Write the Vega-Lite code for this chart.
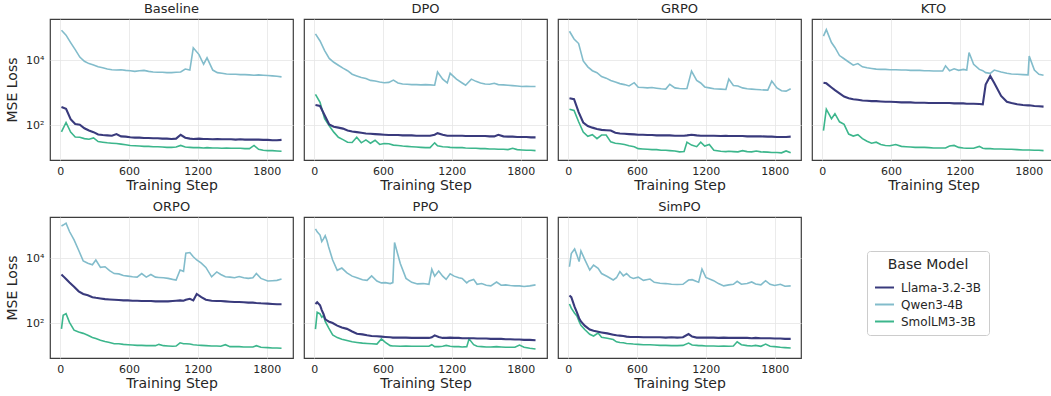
{
"$schema": "https://vega.github.io/schema/vega-lite/v6.json",
"padding": {"left": 5, "top": 2, "right": 0, "bottom": 0},
"background": "white",
"data": {"values": [
{"m":"Baseline","x":10,"L":363,"Q":85100,"S":61.7},
{"m":"Baseline","x":50,"L":316,"Q":60300,"S":120},
{"m":"Baseline","x":90,"L":151,"Q":35500,"S":60.3},
{"m":"Baseline","x":130,"L":107,"Q":21400,"S":42.7},
{"m":"Baseline","x":170,"L":102,"Q":12600,"S":41.7},
{"m":"Baseline","x":210,"L":79.4,"Q":9330,"S":38.0},
{"m":"Baseline","x":250,"L":67.6,"Q":7940,"S":36.3},
{"m":"Baseline","x":290,"L":60.3,"Q":7240,"S":39.8},
{"m":"Baseline","x":330,"L":51.3,"Q":6310,"S":30.9},
{"m":"Baseline","x":370,"L":49.0,"Q":5890,"S":29.5},
{"m":"Baseline","x":410,"L":47.9,"Q":5370,"S":28.2},
{"m":"Baseline","x":450,"L":46.8,"Q":5130,"S":27.5},
{"m":"Baseline","x":490,"L":52.5,"Q":5010,"S":26.9},
{"m":"Baseline","x":530,"L":44.7,"Q":5130,"S":25.7},
{"m":"Baseline","x":570,"L":43.7,"Q":4900,"S":24.5},
{"m":"Baseline","x":610,"L":41.7,"Q":4790,"S":23.4},
{"m":"Baseline","x":650,"L":40.7,"Q":4570,"S":22.9},
{"m":"Baseline","x":690,"L":40.7,"Q":4790,"S":22.4},
{"m":"Baseline","x":730,"L":39.8,"Q":4900,"S":21.9},
{"m":"Baseline","x":770,"L":39.8,"Q":4570,"S":21.9},
{"m":"Baseline","x":810,"L":38.9,"Q":4370,"S":21.4},
{"m":"Baseline","x":850,"L":38.9,"Q":4270,"S":21.4},
{"m":"Baseline","x":890,"L":38.0,"Q":4270,"S":20.9},
{"m":"Baseline","x":930,"L":38.0,"Q":4170,"S":20.4},
{"m":"Baseline","x":970,"L":37.2,"Q":4170,"S":20.4},
{"m":"Baseline","x":1010,"L":38.0,"Q":4270,"S":20.9},
{"m":"Baseline","x":1050,"L":50.1,"Q":4370,"S":23.4},
{"m":"Baseline","x":1090,"L":40.7,"Q":5370,"S":20.9},
{"m":"Baseline","x":1130,"L":38.0,"Q":5010,"S":20.4},
{"m":"Baseline","x":1160,"L":37.2,"Q":24500,"S":20.0},
{"m":"Baseline","x":1210,"L":38.0,"Q":15100,"S":20.0},
{"m":"Baseline","x":1250,"L":37.2,"Q":7590,"S":19.5},
{"m":"Baseline","x":1280,"L":37.2,"Q":12000,"S":20.0},
{"m":"Baseline","x":1330,"L":36.3,"Q":5010,"S":19.5},
{"m":"Baseline","x":1370,"L":37.2,"Q":4170,"S":19.5},
{"m":"Baseline","x":1410,"L":36.3,"Q":3980,"S":19.1},
{"m":"Baseline","x":1450,"L":36.3,"Q":3800,"S":19.5},
{"m":"Baseline","x":1490,"L":36.3,"Q":3720,"S":19.1},
{"m":"Baseline","x":1530,"L":35.5,"Q":3720,"S":19.1},
{"m":"Baseline","x":1570,"L":36.3,"Q":3630,"S":19.1},
{"m":"Baseline","x":1610,"L":35.5,"Q":3630,"S":18.6},
{"m":"Baseline","x":1650,"L":35.5,"Q":3550,"S":18.6},
{"m":"Baseline","x":1690,"L":35.5,"Q":3470,"S":23.4},
{"m":"Baseline","x":1730,"L":35.5,"Q":3550,"S":17.8},
{"m":"Baseline","x":1770,"L":34.7,"Q":3470,"S":16.6},
{"m":"Baseline","x":1810,"L":34.7,"Q":3390,"S":16.2},
{"m":"Baseline","x":1850,"L":33.9,"Q":3310,"S":16.2},
{"m":"Baseline","x":1890,"L":33.9,"Q":3240,"S":15.8},
{"m":"Baseline","x":1930,"L":34.7,"Q":3090,"S":15.5},
{"m":"DPO","x":10,"L":417,"Q":66100,"S":891},
{"m":"DPO","x":50,"L":389,"Q":39800,"S":501},
{"m":"DPO","x":90,"L":200,"Q":20000,"S":158},
{"m":"DPO","x":130,"L":105,"Q":11500,"S":95.5},
{"m":"DPO","x":170,"L":89.1,"Q":8710,"S":60.3},
{"m":"DPO","x":210,"L":83.2,"Q":7080,"S":41.7},
{"m":"DPO","x":250,"L":77.6,"Q":5750,"S":35.5},
{"m":"DPO","x":290,"L":67.6,"Q":4790,"S":29.5},
{"m":"DPO","x":330,"L":63.1,"Q":3720,"S":28.8},
{"m":"DPO","x":370,"L":60.3,"Q":3310,"S":41.7},
{"m":"DPO","x":410,"L":57.5,"Q":2950,"S":28.2},
{"m":"DPO","x":450,"L":55.0,"Q":2750,"S":34.7},
{"m":"DPO","x":490,"L":53.7,"Q":2400,"S":27.5},
{"m":"DPO","x":530,"L":52.5,"Q":2290,"S":33.9},
{"m":"DPO","x":570,"L":51.3,"Q":2140,"S":25.1},
{"m":"DPO","x":610,"L":50.1,"Q":2040,"S":26.9},
{"m":"DPO","x":650,"L":49.0,"Q":2090,"S":26.3},
{"m":"DPO","x":690,"L":49.0,"Q":2450,"S":24.0},
{"m":"DPO","x":730,"L":49.0,"Q":2000,"S":23.4},
{"m":"DPO","x":770,"L":47.9,"Q":1860,"S":22.4},
{"m":"DPO","x":810,"L":47.9,"Q":1820,"S":21.9},
{"m":"DPO","x":850,"L":47.9,"Q":1780,"S":21.4},
{"m":"DPO","x":890,"L":46.8,"Q":1780,"S":20.9},
{"m":"DPO","x":930,"L":46.8,"Q":1740,"S":20.4},
{"m":"DPO","x":970,"L":46.8,"Q":1780,"S":20.0},
{"m":"DPO","x":1010,"L":46.8,"Q":1740,"S":20.0},
{"m":"DPO","x":1050,"L":50.1,"Q":1700,"S":28.2},
{"m":"DPO","x":1075,"L":56.2,"Q":4370,"S":22.9},
{"m":"DPO","x":1120,"L":50.1,"Q":2630,"S":21.4},
{"m":"DPO","x":1160,"L":46.8,"Q":2000,"S":20.9},
{"m":"DPO","x":1185,"L":46.8,"Q":3980,"S":20.4},
{"m":"DPO","x":1240,"L":46.8,"Q":2630,"S":20.0},
{"m":"DPO","x":1290,"L":46.8,"Q":2000,"S":20.0},
{"m":"DPO","x":1320,"L":45.7,"Q":1700,"S":19.5},
{"m":"DPO","x":1370,"L":45.7,"Q":2630,"S":19.1},
{"m":"DPO","x":1410,"L":45.7,"Q":2240,"S":19.1},
{"m":"DPO","x":1450,"L":45.7,"Q":2000,"S":18.6},
{"m":"DPO","x":1490,"L":45.7,"Q":1860,"S":18.6},
{"m":"DPO","x":1530,"L":44.7,"Q":1820,"S":18.2},
{"m":"DPO","x":1570,"L":44.7,"Q":1950,"S":18.2},
{"m":"DPO","x":1605,"L":50.1,"Q":1780,"S":17.8},
{"m":"DPO","x":1650,"L":44.7,"Q":1740,"S":17.8},
{"m":"DPO","x":1690,"L":43.7,"Q":1700,"S":17.4},
{"m":"DPO","x":1730,"L":43.7,"Q":1660,"S":19.1},
{"m":"DPO","x":1770,"L":42.7,"Q":1620,"S":17.4},
{"m":"DPO","x":1810,"L":42.7,"Q":1550,"S":17.0},
{"m":"DPO","x":1850,"L":42.7,"Q":1580,"S":16.6},
{"m":"DPO","x":1890,"L":41.7,"Q":1550,"S":16.6},
{"m":"DPO","x":1930,"L":41.7,"Q":1550,"S":16.2},
{"m":"GRPO","x":10,"L":676,"Q":79400,"S":309},
{"m":"GRPO","x":50,"L":631,"Q":45700,"S":282},
{"m":"GRPO","x":90,"L":251,"Q":33100,"S":126},
{"m":"GRPO","x":130,"L":120,"Q":9550,"S":60.3},
{"m":"GRPO","x":170,"L":93.3,"Q":6310,"S":44.7},
{"m":"GRPO","x":210,"L":83.2,"Q":4790,"S":50.1},
{"m":"GRPO","x":250,"L":75.9,"Q":4170,"S":38.0},
{"m":"GRPO","x":290,"L":70.8,"Q":3160,"S":49.0},
{"m":"GRPO","x":330,"L":69.2,"Q":2820,"S":49.0},
{"m":"GRPO","x":370,"L":67.6,"Q":2400,"S":30.2},
{"m":"GRPO","x":410,"L":57.5,"Q":2140,"S":27.5},
{"m":"GRPO","x":450,"L":55.0,"Q":1910,"S":26.3},
{"m":"GRPO","x":490,"L":53.7,"Q":1780,"S":25.1},
{"m":"GRPO","x":530,"L":52.5,"Q":1620,"S":22.9},
{"m":"GRPO","x":575,"L":51.3,"Q":2040,"S":21.4},
{"m":"GRPO","x":610,"L":50.1,"Q":1480,"S":18.6},
{"m":"GRPO","x":650,"L":50.1,"Q":1450,"S":18.2},
{"m":"GRPO","x":690,"L":49.0,"Q":1410,"S":17.8},
{"m":"GRPO","x":730,"L":49.0,"Q":1450,"S":17.4},
{"m":"GRPO","x":770,"L":47.9,"Q":1380,"S":17.4},
{"m":"GRPO","x":810,"L":47.9,"Q":1320,"S":16.6},
{"m":"GRPO","x":850,"L":47.9,"Q":1290,"S":16.6},
{"m":"GRPO","x":885,"L":47.9,"Q":1820,"S":16.2},
{"m":"GRPO","x":930,"L":46.8,"Q":1410,"S":15.8},
{"m":"GRPO","x":970,"L":46.8,"Q":1350,"S":14.8},
{"m":"GRPO","x":1010,"L":46.8,"Q":1320,"S":15.1},
{"m":"GRPO","x":1035,"L":47.9,"Q":1350,"S":29.5},
{"m":"GRPO","x":1075,"L":50.1,"Q":4680,"S":24.0},
{"m":"GRPO","x":1120,"L":47.9,"Q":2400,"S":21.4},
{"m":"GRPO","x":1155,"L":46.8,"Q":2000,"S":29.5},
{"m":"GRPO","x":1190,"L":46.8,"Q":1510,"S":22.4},
{"m":"GRPO","x":1230,"L":46.8,"Q":1410,"S":25.1},
{"m":"GRPO","x":1270,"L":46.8,"Q":1320,"S":16.6},
{"m":"GRPO","x":1330,"L":45.7,"Q":1290,"S":15.5},
{"m":"GRPO","x":1375,"L":46.8,"Q":1260,"S":15.1},
{"m":"GRPO","x":1400,"L":45.7,"Q":2630,"S":15.5},
{"m":"GRPO","x":1440,"L":45.7,"Q":1660,"S":15.1},
{"m":"GRPO","x":1480,"L":45.7,"Q":1620,"S":14.8},
{"m":"GRPO","x":1520,"L":45.7,"Q":1410,"S":16.2},
{"m":"GRPO","x":1560,"L":44.7,"Q":1320,"S":15.1},
{"m":"GRPO","x":1600,"L":44.7,"Q":1290,"S":14.8},
{"m":"GRPO","x":1640,"L":44.7,"Q":1260,"S":15.8},
{"m":"GRPO","x":1680,"L":44.7,"Q":1230,"S":14.8},
{"m":"GRPO","x":1740,"L":43.7,"Q":1200,"S":14.5},
{"m":"GRPO","x":1775,"L":43.7,"Q":2290,"S":14.1},
{"m":"GRPO","x":1820,"L":42.7,"Q":1410,"S":14.1},
{"m":"GRPO","x":1860,"L":42.7,"Q":1150,"S":13.8},
{"m":"GRPO","x":1900,"L":42.7,"Q":1120,"S":15.8},
{"m":"GRPO","x":1940,"L":43.7,"Q":1320,"S":13.8},
{"m":"KTO","x":10,"L":2040,"Q":56200,"S":67.6},
{"m":"KTO","x":35,"L":1950,"Q":89100,"S":309},
{"m":"KTO","x":80,"L":1450,"Q":35500,"S":158},
{"m":"KTO","x":110,"L":1200,"Q":25100,"S":224},
{"m":"KTO","x":150,"L":955,"Q":14100,"S":126},
{"m":"KTO","x":190,"L":759,"Q":11200,"S":105},
{"m":"KTO","x":230,"L":676,"Q":8910,"S":52.5},
{"m":"KTO","x":270,"L":631,"Q":7080,"S":45.7},
{"m":"KTO","x":310,"L":603,"Q":7940,"S":50.1},
{"m":"KTO","x":350,"L":575,"Q":6310,"S":38.0},
{"m":"KTO","x":390,"L":562,"Q":5890,"S":31.6},
{"m":"KTO","x":430,"L":550,"Q":5620,"S":27.5},
{"m":"KTO","x":470,"L":550,"Q":5370,"S":29.5},
{"m":"KTO","x":510,"L":537,"Q":5250,"S":25.1},
{"m":"KTO","x":550,"L":525,"Q":5250,"S":23.4},
{"m":"KTO","x":590,"L":525,"Q":5130,"S":22.9},
{"m":"KTO","x":640,"L":513,"Q":5130,"S":25.1},
{"m":"KTO","x":690,"L":501,"Q":5010,"S":21.9},
{"m":"KTO","x":730,"L":501,"Q":5010,"S":21.4},
{"m":"KTO","x":770,"L":501,"Q":4900,"S":20.9},
{"m":"KTO","x":810,"L":490,"Q":4900,"S":20.4},
{"m":"KTO","x":850,"L":490,"Q":4900,"S":20.4},
{"m":"KTO","x":890,"L":490,"Q":4790,"S":20.4},
{"m":"KTO","x":930,"L":479,"Q":4790,"S":20.0},
{"m":"KTO","x":970,"L":479,"Q":4680,"S":19.5},
{"m":"KTO","x":1010,"L":479,"Q":4680,"S":19.5},
{"m":"KTO","x":1050,"L":479,"Q":4680,"S":19.5},
{"m":"KTO","x":1075,"L":479,"Q":6760,"S":19.5},
{"m":"KTO","x":1110,"L":479,"Q":4790,"S":22.4},
{"m":"KTO","x":1150,"L":468,"Q":5500,"S":23.4},
{"m":"KTO","x":1190,"L":468,"Q":4900,"S":20.4},
{"m":"KTO","x":1230,"L":468,"Q":5250,"S":19.5},
{"m":"KTO","x":1260,"L":457,"Q":5010,"S":19.1},
{"m":"KTO","x":1280,"L":457,"Q":17400,"S":19.1},
{"m":"KTO","x":1320,"L":457,"Q":7590,"S":19.1},
{"m":"KTO","x":1370,"L":447,"Q":5250,"S":21.9},
{"m":"KTO","x":1400,"L":437,"Q":4790,"S":19.1},
{"m":"KTO","x":1425,"L":1780,"Q":4170,"S":18.6},
{"m":"KTO","x":1465,"L":3310,"Q":3980,"S":18.6},
{"m":"KTO","x":1500,"L":2000,"Q":5010,"S":18.2},
{"m":"KTO","x":1560,"L":794,"Q":4370,"S":18.2},
{"m":"KTO","x":1610,"L":525,"Q":3980,"S":17.8},
{"m":"KTO","x":1650,"L":479,"Q":3800,"S":17.8},
{"m":"KTO","x":1700,"L":437,"Q":3720,"S":17.4},
{"m":"KTO","x":1750,"L":417,"Q":3630,"S":17.0},
{"m":"KTO","x":1795,"L":407,"Q":3550,"S":17.0},
{"m":"KTO","x":1805,"L":407,"Q":13500,"S":17.0},
{"m":"KTO","x":1850,"L":389,"Q":5010,"S":16.6},
{"m":"KTO","x":1890,"L":380,"Q":3720,"S":16.6},
{"m":"KTO","x":1930,"L":372,"Q":3470,"S":16.2},
{"m":"ORPO","x":10,"L":3160,"Q":100000,"S":66.1},
{"m":"ORPO","x":25,"L":2820,"Q":107000,"S":174},
{"m":"ORPO","x":50,"L":2290,"Q":123000,"S":195},
{"m":"ORPO","x":80,"L":1780,"Q":67600,"S":105},
{"m":"ORPO","x":120,"L":1320,"Q":37200,"S":60.3},
{"m":"ORPO","x":160,"L":955,"Q":17800,"S":52.5},
{"m":"ORPO","x":200,"L":794,"Q":8320,"S":47.9},
{"m":"ORPO","x":240,"L":724,"Q":7080,"S":41.7},
{"m":"ORPO","x":280,"L":631,"Q":6310,"S":35.5},
{"m":"ORPO","x":310,"L":603,"Q":8910,"S":33.1},
{"m":"ORPO","x":350,"L":575,"Q":5250,"S":29.5},
{"m":"ORPO","x":390,"L":550,"Q":5500,"S":26.9},
{"m":"ORPO","x":430,"L":537,"Q":4170,"S":25.1},
{"m":"ORPO","x":470,"L":525,"Q":3390,"S":22.9},
{"m":"ORPO","x":510,"L":513,"Q":3310,"S":22.9},
{"m":"ORPO","x":550,"L":501,"Q":2950,"S":21.9},
{"m":"ORPO","x":590,"L":501,"Q":2820,"S":21.4},
{"m":"ORPO","x":630,"L":490,"Q":2690,"S":20.9},
{"m":"ORPO","x":670,"L":490,"Q":2630,"S":20.4},
{"m":"ORPO","x":710,"L":479,"Q":3390,"S":20.4},
{"m":"ORPO","x":750,"L":479,"Q":2630,"S":20.0},
{"m":"ORPO","x":790,"L":479,"Q":3160,"S":20.0},
{"m":"ORPO","x":830,"L":468,"Q":2630,"S":20.0},
{"m":"ORPO","x":860,"L":468,"Q":2570,"S":21.9},
{"m":"ORPO","x":900,"L":468,"Q":2510,"S":20.0},
{"m":"ORPO","x":940,"L":468,"Q":2400,"S":19.5},
{"m":"ORPO","x":980,"L":479,"Q":2240,"S":19.1},
{"m":"ORPO","x":1010,"L":490,"Q":2140,"S":19.5},
{"m":"ORPO","x":1045,"L":501,"Q":4370,"S":24.5},
{"m":"ORPO","x":1075,"L":490,"Q":3980,"S":22.9},
{"m":"ORPO","x":1095,"L":525,"Q":14500,"S":22.9},
{"m":"ORPO","x":1130,"L":562,"Q":15100,"S":22.4},
{"m":"ORPO","x":1160,"L":501,"Q":11200,"S":21.4},
{"m":"ORPO","x":1190,"L":794,"Q":8910,"S":20.9},
{"m":"ORPO","x":1230,"L":631,"Q":7080,"S":20.4},
{"m":"ORPO","x":1270,"L":525,"Q":5250,"S":20.0},
{"m":"ORPO","x":1320,"L":490,"Q":2690,"S":19.5},
{"m":"ORPO","x":1365,"L":479,"Q":3800,"S":19.5},
{"m":"ORPO","x":1400,"L":479,"Q":3160,"S":19.1},
{"m":"ORPO","x":1440,"L":468,"Q":2690,"S":21.4},
{"m":"ORPO","x":1480,"L":457,"Q":2630,"S":18.6},
{"m":"ORPO","x":1520,"L":447,"Q":2510,"S":18.6},
{"m":"ORPO","x":1560,"L":447,"Q":2750,"S":18.6},
{"m":"ORPO","x":1600,"L":437,"Q":2510,"S":18.2},
{"m":"ORPO","x":1640,"L":427,"Q":2400,"S":18.2},
{"m":"ORPO","x":1680,"L":427,"Q":2510,"S":18.2},
{"m":"ORPO","x":1710,"L":417,"Q":3390,"S":20.0},
{"m":"ORPO","x":1750,"L":407,"Q":2400,"S":17.8},
{"m":"ORPO","x":1810,"L":398,"Q":2000,"S":17.4},
{"m":"ORPO","x":1850,"L":389,"Q":2040,"S":17.0},
{"m":"ORPO","x":1890,"L":380,"Q":2090,"S":17.0},
{"m":"ORPO","x":1930,"L":380,"Q":2290,"S":16.6},
{"m":"PPO","x":10,"L":389,"Q":81300,"S":64.6},
{"m":"PPO","x":25,"L":437,"Q":66100,"S":214},
{"m":"PPO","x":50,"L":355,"Q":52500,"S":191},
{"m":"PPO","x":65,"L":251,"Q":33100,"S":151},
{"m":"PPO","x":80,"L":191,"Q":39800,"S":170},
{"m":"PPO","x":95,"L":132,"Q":50100,"S":112},
{"m":"PPO","x":110,"L":120,"Q":35500,"S":89.1},
{"m":"PPO","x":125,"L":112,"Q":22400,"S":70.8},
{"m":"PPO","x":160,"L":100,"Q":8910,"S":42.7},
{"m":"PPO","x":200,"L":83.2,"Q":4270,"S":35.5},
{"m":"PPO","x":240,"L":72.4,"Q":5010,"S":31.6},
{"m":"PPO","x":285,"L":66.1,"Q":3550,"S":28.8},
{"m":"PPO","x":330,"L":55.0,"Q":2820,"S":26.3},
{"m":"PPO","x":372,"L":46.8,"Q":2510,"S":25.1},
{"m":"PPO","x":420,"L":44.7,"Q":2190,"S":24.0},
{"m":"PPO","x":460,"L":41.7,"Q":2090,"S":23.4},
{"m":"PPO","x":500,"L":39.8,"Q":2880,"S":22.9},
{"m":"PPO","x":546,"L":38.9,"Q":2000,"S":22.4},
{"m":"PPO","x":585,"L":38.0,"Q":1740,"S":32.4},
{"m":"PPO","x":620,"L":37.2,"Q":1780,"S":25.1},
{"m":"PPO","x":662,"L":36.3,"Q":1660,"S":20.0},
{"m":"PPO","x":685,"L":35.5,"Q":1780,"S":19.5},
{"m":"PPO","x":700,"L":35.5,"Q":30900,"S":19.5},
{"m":"PPO","x":750,"L":35.5,"Q":6920,"S":19.1},
{"m":"PPO","x":800,"L":35.5,"Q":2400,"S":19.5},
{"m":"PPO","x":850,"L":34.7,"Q":1820,"S":19.1},
{"m":"PPO","x":900,"L":34.7,"Q":1620,"S":19.1},
{"m":"PPO","x":950,"L":34.7,"Q":1660,"S":19.1},
{"m":"PPO","x":1000,"L":34.7,"Q":1580,"S":19.1},
{"m":"PPO","x":1025,"L":36.3,"Q":4570,"S":21.4},
{"m":"PPO","x":1050,"L":41.7,"Q":2820,"S":18.6},
{"m":"PPO","x":1085,"L":37.2,"Q":4070,"S":18.6},
{"m":"PPO","x":1120,"L":34.7,"Q":2820,"S":19.1},
{"m":"PPO","x":1150,"L":34.7,"Q":2240,"S":20.4},
{"m":"PPO","x":1185,"L":35.5,"Q":3310,"S":19.1},
{"m":"PPO","x":1220,"L":34.7,"Q":2820,"S":18.6},
{"m":"PPO","x":1260,"L":34.7,"Q":2510,"S":18.6},
{"m":"PPO","x":1290,"L":33.9,"Q":2400,"S":18.2},
{"m":"PPO","x":1330,"L":33.9,"Q":1740,"S":18.6},
{"m":"PPO","x":1350,"L":33.9,"Q":2000,"S":32.4},
{"m":"PPO","x":1390,"L":33.9,"Q":2240,"S":21.4},
{"m":"PPO","x":1420,"L":33.1,"Q":1580,"S":19.1},
{"m":"PPO","x":1460,"L":33.1,"Q":1660,"S":18.6},
{"m":"PPO","x":1500,"L":33.1,"Q":1480,"S":18.2},
{"m":"PPO","x":1540,"L":32.4,"Q":1410,"S":18.2},
{"m":"PPO","x":1590,"L":32.4,"Q":1860,"S":18.6},
{"m":"PPO","x":1630,"L":32.4,"Q":1480,"S":18.2},
{"m":"PPO","x":1670,"L":31.6,"Q":1510,"S":17.8},
{"m":"PPO","x":1710,"L":31.6,"Q":1450,"S":17.8},
{"m":"PPO","x":1750,"L":30.9,"Q":1410,"S":17.8},
{"m":"PPO","x":1790,"L":30.9,"Q":1410,"S":20.9},
{"m":"PPO","x":1830,"L":30.2,"Q":1350,"S":17.8},
{"m":"PPO","x":1880,"L":30.2,"Q":1410,"S":16.6},
{"m":"PPO","x":1930,"L":29.5,"Q":1510,"S":15.8},
{"m":"SimPO","x":10,"L":708,"Q":5500,"S":389},
{"m":"SimPO","x":26,"L":631,"Q":14100,"S":288},
{"m":"SimPO","x":55,"L":316,"Q":19500,"S":200},
{"m":"SimPO","x":75,"L":214,"Q":12600,"S":166},
{"m":"SimPO","x":94,"L":141,"Q":7940,"S":112},
{"m":"SimPO","x":110,"L":112,"Q":17000,"S":85.1},
{"m":"SimPO","x":143,"L":83.2,"Q":9330,"S":63.1},
{"m":"SimPO","x":187,"L":63.1,"Q":4370,"S":44.7},
{"m":"SimPO","x":220,"L":57.5,"Q":6170,"S":39.8},
{"m":"SimPO","x":260,"L":53.7,"Q":4900,"S":49.0},
{"m":"SimPO","x":290,"L":51.3,"Q":3390,"S":36.3},
{"m":"SimPO","x":340,"L":47.9,"Q":2750,"S":33.9},
{"m":"SimPO","x":392,"L":43.7,"Q":2140,"S":30.9},
{"m":"SimPO","x":420,"L":41.7,"Q":2510,"S":26.3},
{"m":"SimPO","x":450,"L":40.7,"Q":3890,"S":25.1},
{"m":"SimPO","x":480,"L":39.8,"Q":2880,"S":24.5},
{"m":"SimPO","x":508,"L":38.0,"Q":3390,"S":23.4},
{"m":"SimPO","x":540,"L":37.2,"Q":2630,"S":22.9},
{"m":"SimPO","x":567,"L":37.2,"Q":2400,"S":22.4},
{"m":"SimPO","x":610,"L":37.2,"Q":2630,"S":21.9},
{"m":"SimPO","x":655,"L":36.3,"Q":2090,"S":21.4},
{"m":"SimPO","x":713,"L":36.3,"Q":2290,"S":21.4},
{"m":"SimPO","x":750,"L":36.3,"Q":1820,"S":20.9},
{"m":"SimPO","x":800,"L":36.3,"Q":1700,"S":20.4},
{"m":"SimPO","x":850,"L":35.5,"Q":1660,"S":20.4},
{"m":"SimPO","x":900,"L":36.3,"Q":1580,"S":20.0},
{"m":"SimPO","x":950,"L":35.5,"Q":1550,"S":20.0},
{"m":"SimPO","x":1000,"L":36.3,"Q":1580,"S":20.4},
{"m":"SimPO","x":1049,"L":45.7,"Q":2140,"S":24.0},
{"m":"SimPO","x":1080,"L":38.0,"Q":2190,"S":20.9},
{"m":"SimPO","x":1120,"L":35.5,"Q":1910,"S":20.4},
{"m":"SimPO","x":1137,"L":35.5,"Q":1820,"S":20.0},
{"m":"SimPO","x":1166,"L":35.5,"Q":4680,"S":20.0},
{"m":"SimPO","x":1200,"L":35.5,"Q":2570,"S":19.5},
{"m":"SimPO","x":1268,"L":35.5,"Q":2040,"S":19.5},
{"m":"SimPO","x":1310,"L":34.7,"Q":1660,"S":19.1},
{"m":"SimPO","x":1356,"L":35.5,"Q":1410,"S":19.5},
{"m":"SimPO","x":1400,"L":34.7,"Q":1510,"S":19.1},
{"m":"SimPO","x":1440,"L":34.7,"Q":1580,"S":19.5},
{"m":"SimPO","x":1473,"L":34.7,"Q":1950,"S":26.3},
{"m":"SimPO","x":1510,"L":34.7,"Q":1580,"S":21.4},
{"m":"SimPO","x":1560,"L":34.7,"Q":1660,"S":20.0},
{"m":"SimPO","x":1600,"L":33.9,"Q":1860,"S":19.5},
{"m":"SimPO","x":1634,"L":34.7,"Q":1620,"S":20.4},
{"m":"SimPO","x":1680,"L":33.9,"Q":1510,"S":19.1},
{"m":"SimPO","x":1721,"L":33.9,"Q":2040,"S":22.4},
{"m":"SimPO","x":1760,"L":33.9,"Q":1580,"S":19.1},
{"m":"SimPO","x":1800,"L":33.1,"Q":1450,"S":18.6},
{"m":"SimPO","x":1850,"L":33.1,"Q":1580,"S":17.8},
{"m":"SimPO","x":1890,"L":32.4,"Q":1380,"S":17.4},
{"m":"SimPO","x":1940,"L":32.4,"Q":1410,"S":17.0}
]},
"transform": [{"fold": ["L", "Q", "S"], "as": ["model", "loss"]}],
"facet": {"field": "m", "type": "nominal", "sort": ["Baseline", "DPO", "GRPO", "KTO", "ORPO", "PPO", "SimPO"], "header": {"title": null, "labelFontSize": 13, "labelColor": "#262626", "labelPadding": 3, "labelFont": "DejaVu Sans"}},
"columns": 4,
"spacing": {"row": 7, "column": 9},
"resolve": {"axis": {"x": "independent"}},
"spec": {
  "width": 243,
  "height": 141,
  "encoding": {
    "x": {"field": "x", "type": "quantitative", "scale": {"domain": [-90, 2030], "nice": false, "zero": false}, "axis": {"values": [0, 600, 1200, 1800], "format": "d", "title": "Training Step", "titlePadding": 2}},
    "y": {"field": "loss", "type": "quantitative", "scale": {"type": "log", "domain": [8.3, 190000], "nice": false}, "axis": {"values": [100, 10000], "labelExpr": "datum.value == 100 ? '10²' : (datum.value == 10000 ? '10⁴' : '')", "title": "MSE Loss", "titlePadding": 6}},
    "color": {"field": "model", "type": "nominal", "scale": {"domain": ["L", "Q", "S"], "range": ["#393a7c", "#82bccb", "#3cb68c"]},
      "legend": {"title": "Base Model", "orient": "none", "legendX": 817, "legendY": 232, "labelExpr": "datum.label == 'L' ? 'Llama-3.2-3B' : (datum.label == 'Q' ? 'Qwen3-4B' : 'SmolLM3-3B')", "symbolType": "stroke", "symbolSize": 360, "symbolStrokeWidth": 2, "strokeColor": "#cccccc", "fillColor": "white", "padding": 7, "cornerRadius": 3, "titleFontSize": 14, "titleFontWeight": "normal", "titleAnchor": "middle", "labelFontSize": 12, "titleColor": "#262626", "labelColor": "#262626", "rowPadding": 0, "titlePadding": 5, "labelOffset": 6}}
  },
  "layer": [
    {"transform": [{"filter": "datum.model != 'L'"}], "mark": {"type": "line", "clip": true, "strokeWidth": 1.6}},
    {"transform": [{"filter": "datum.model == 'L'"}], "mark": {"type": "line", "clip": true, "strokeWidth": 2.1}}
  ]
},
"config": {
  "font": "DejaVu Sans",
  "view": {"stroke": "#3d3d3d", "strokeWidth": 1.2},
  "axis": {"grid": true, "gridColor": "#e6e6e6", "gridWidth": 0.8, "domain": false, "ticks": false, "labelFontSize": 11, "titleFontSize": 14, "labelColor": "#262626", "titleColor": "#262626", "titleFontWeight": "normal", "labelPadding": 5, "labelFont": "DejaVu Sans", "titleFont": "DejaVu Sans"}
}
}
